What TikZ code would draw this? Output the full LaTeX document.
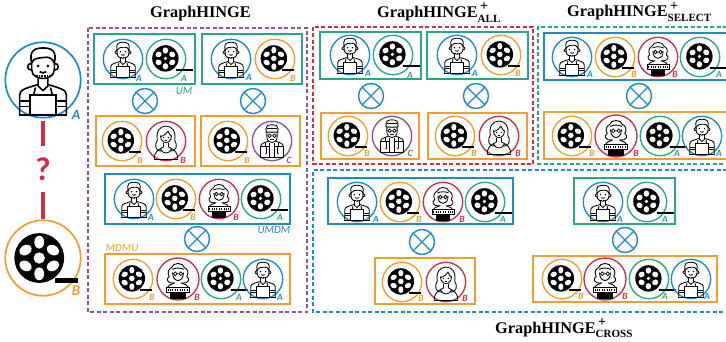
\documentclass[tikz,border=0pt]{standalone}
\usepackage{fontspec}
\setmainfont{Liberation Serif}
\setsansfont{Carlito}
\definecolor{cb}{HTML}{1F8AC6}
\definecolor{cg}{HTML}{2BA58A}
\definecolor{co}{HTML}{F39C2F}
\definecolor{cr}{HTML}{CE2F45}
\definecolor{cp}{HTML}{92519B}
\newcount\tkn
\newcommand{\ttlbase}{\fontsize{16.3}{16.3}\selectfont\bfseries GraphHINGE}
\newcommand{\ttl}[1]{\ttlbase\rlap{\raisebox{.42em}{\fontsize{14}{14}\selectfont\,+}}\raisebox{-.28em}{\fontsize{11}{11}\selectfont #1}}
\newcommand{\iconreel}{%
  \fill[black] (-.06,-.03) circle (.67);
  \fill[black] (.38,.49) rectangle (.97,.62);
  \begin{scope}[shift={(-.06,-.03)}]
  \fill[white] (0,0) circle (.14);
  \foreach \a in {30,90,...,330}{\fill[white,shift={(\a:.42)},rotate=\a] (0,0) ellipse (.17 and .13);}
  \end{scope}}
\newcommand{\iconreelA}{%
  \fill[black] (-.03,-.03) circle (.67);
  \fill[black] (.5,.49) rectangle (1.35,.62);
  \begin{scope}[shift={(-.03,-.03)}]
  \fill[white] (0,0) circle (.09);
  \foreach \a in {30,90,...,330}{\fill[white,shift={(\a:.4)},rotate=\a] (0,0) ellipse (.16 and .14);}
  \end{scope}}
\newcommand{\iconman}{%
  \draw (-.3,-.5) -- (-.3,-.28) .. controls (-.3,-.1) and (-.12,-.04) .. (0,-.04) .. controls (.12,-.04) and (.3,-.1) .. (.3,-.28) -- (.3,-.5);
  \draw (-.3,-.45) .. controls (-.38,-.78) and (-.22,-.85) .. (0,-.85) .. controls (.22,-.85) and (.38,-.78) .. (.3,-.45) .. controls (.25,-.58) and (.15,-.62) .. (.05,-.6) .. controls (-.1,-.58) and (-.25,-.6) .. (-.3,-.45);
  \draw (-.31,-.44) .. controls (-.44,-.44) and (-.44,-.26) .. (-.3,-.26);
  \draw (.31,-.44) .. controls (.44,-.44) and (.44,-.26) .. (.3,-.26);
  \fill (-.13,-.37) circle (.04) (.13,-.37) circle (.04);
  \draw (-.09,-.22) .. controls (-.04,-.18) and (.04,-.18) .. (.09,-.22);
  \draw[densely dotted] (-.18,-.1) -- (.18,-.1);
  \draw (-.13,-.04) -- (-.13,.16) -- (0,.28) -- (.13,.16) -- (.13,-.04);
  \draw (-.62,.92) -- (-.62,.4) .. controls (-.62,.25) and (-.45,.22) .. (-.13,.12);
  \draw (.62,.92) -- (.62,.4) .. controls (.62,.25) and (.45,.22) .. (.13,.12);
  \draw (-.34,.92) -- (-.34,.4) -- (.34,.4) -- (.34,.92);
  \draw (-.25,.4) -- (-.2,.2) (.25,.4) -- (.2,.2);
  \draw (-.62,.56) -- (-.34,.56) (-.62,.7) -- (-.34,.7) (.62,.56) -- (.34,.56) (.62,.7) -- (.34,.7);
  \fill (-.64,.89) rectangle (.64,.95);}
\newcommand{\iconwoman}{%
  \draw (-.2,.5) .. controls (-.55,.55) and (-.6,.2) .. (-.44,-.05) .. controls (-.52,-.5) and (-.3,-.76) .. (0,-.76) .. controls (.3,-.76) and (.52,-.5) .. (.44,-.05) .. controls (.6,.2) and (.55,.55) .. (.2,.5);
  \draw (-.28,-.22) .. controls (-.1,-.28) and (.05,-.38) .. (.1,-.5) .. controls (.15,-.38) and (.22,-.28) .. (.28,-.22);
  \draw (-.28,-.28) .. controls (-.28,-.02) and (-.12,.08) .. (0,.08) .. controls (.12,.08) and (.28,-.02) .. (.28,-.28);
  \fill (-.12,-.18) circle (.035) (.12,-.18) circle (.035);
  \draw (-.07,-.05) .. controls (-.03,-.01) and (.03,-.01) .. (.07,-.05);
  \draw (-.12,.08) -- (-.12,.3) (.12,.08) -- (.12,.3);
  \draw (-.6,.92) .. controls (-.6,.6) and (-.45,.45) .. (-.12,.3);
  \draw (.6,.92) .. controls (.6,.6) and (.45,.45) .. (.12,.3);
  \draw (-.28,.4) .. controls (-.18,.68) and (.18,.68) .. (.28,.4);
  \fill (-.62,.9) rectangle (.62,.96);}
\newcommand{\icondirector}{%
  \draw (-.2,.2) .. controls (-.5,.22) and (-.6,0) .. (-.42,-.12) .. controls (-.55,-.35) and (-.4,-.5) .. (-.3,-.55) .. controls (-.25,-.8) and (.25,-.8) .. (.3,-.55) .. controls (.42,-.5) and (.55,-.35) .. (.42,-.12) .. controls (.6,0) and (.5,.22) .. (.2,.2);
  \draw (-.26,-.3) .. controls (-.26,-.03) and (-.12,.07) .. (0,.07) .. controls (.12,.07) and (.26,-.03) .. (.26,-.3);
  \draw (-.28,-.46) .. controls (-.1,-.54) and (.1,-.54) .. (.28,-.46);
  \draw[line width=.8pt] (-.13,-.25) circle (.09) (.13,-.25) circle (.09) (-.04,-.25) -- (.04,-.25);
  \draw (-.5,.4) .. controls (-.5,.32) and (-.38,.28) .. (-.14,.18);
  \draw (.5,.4) .. controls (.5,.32) and (.38,.28) .. (.14,.18);
  \draw (-.56,.4) rectangle (.56,.63);
  \draw[line width=1.8pt,dash pattern=on 1.1pt off 1.3pt] (-.5,.515) -- (.5,.515);
  \fill (-.36,.63) rectangle (.36,.97);}
\newcommand{\iconold}{%
  \draw (-.26,-.42) -- (-.26,-.2) .. controls (-.26,.0) and (-.1,.08) .. (0,.08) .. controls (.1,.08) and (.26,.0) .. (.26,-.2) -- (.26,-.42);
  \draw (-.3,-.45) .. controls (-.34,-.78) and (-.2,-.82) .. (0,-.82) .. controls (.2,-.82) and (.34,-.78) .. (.3,-.45) -- cycle;
  \draw (-.26,-.65) -- (.26,-.65);
  \draw[line width=.7pt] (-.12,-.27) circle (.09) (.12,-.27) circle (.09);
  \draw (-.1,-.07) -- (.1,-.07);
  \draw (-.58,.84) -- (-.58,.28) .. controls (-.58,.14) and (-.4,.08) .. (-.2,.02);
  \draw (.58,.84) -- (.58,.28) .. controls (.58,.14) and (.4,.08) .. (.2,.02);
  \draw (-.58,.28) -- (-.14,.28) (.58,.28) -- (.14,.28);
  \draw (-.32,.06) -- (-.32,.28) (.32,.06) -- (.32,.28) (-.14,.08) -- (-.14,.84) (.14,.08) -- (.14,.84);
  \draw (-.3,.28) -- (-.3,.62) (.3,.28) -- (.3,.62);
  \fill (-.3,.64) circle (.04) (.3,.64) circle (.04);
  \fill (-.6,.82) rectangle (.6,.88);}
% token: x y r colour icon labelx labely label
\newcommand{\tk}[8]{%
  \global\advance\tkn by 1
  \node[tokc,draw=#4,minimum size=#3*2pt] (t\the\tkn) at (#1,#2) {};
  \begin{scope}[shift={(#1,#2)},x=#3pt,y=-#3pt,line width={#3*0.042pt}]
    \csname icon#5\endcsname
  \end{scope}
  \node[toklab,text=#4] (l\the\tkn) at (#6,#7) {#8};}
\newcommand{\ot}[2]{%
  \global\advance\tkn by 1
  \node[otc] (o\the\tkn) at (#1,#2) {};
  \draw[cb,line width=1.4pt] (o\the\tkn.45) -- (o\the\tkn.225) (o\the\tkn.135) -- (o\the\tkn.315);}
\newcommand{\bx}[5]{\draw[#1] (#2,#3) rectangle (#4,#5);}
\tikzset{
  tokc/.style={circle,inner sep=0pt,line width=1.35pt},
  toklab/.style={font=\sffamily\itshape\bfseries\fontsize{9.5}{9.5}\selectfont,inner sep=0pt},
  otc/.style={circle,draw=cb,line width=1.4pt,minimum size=25pt,inner sep=0pt},
  tag/.style={font=\sffamily\itshape\fontsize{11}{11}\selectfont,inner sep=0pt},
  gb/.style={draw=cg,line width=1.5pt},
  ob/.style={draw=co,line width=1.5pt},
  bb/.style={draw=cb,line width=1.5pt},
  dashp/.style={draw=#1,line width=1.4pt,dash pattern=on 4pt off 2.5pt},
  ttlnode/.style={anchor=base west,inner sep=0pt},
  qline/.style={cr,line width=3.2pt},
}
\begin{document}
\begin{tikzpicture}[x=1pt,y=-1pt]
\useasboundingbox (0,0) rectangle (726,342);
\clip (0,0) rectangle (726,342);
% titles
\node[ttlnode] (t1) at (150,18) {\ttlbase};
\node[ttlnode] (t2) at (377,17.7) {\ttl{ALL}};
\node[ttlnode] (t3) at (567,17) {\ttl{SELECT}};
\node[ttlnode] (t4) at (495,333) {\ttl{CROSS}};
% dashed groups
\draw[dashp=cp] (88,28) rectangle (307,312);
\draw[dashp=cr] (313,27) rectangle (533,164);
\draw[dashp=cg] (740,27) -- (538,27) -- (538,164) -- (740,164);
\draw[dashp=cb] (740,170) -- (313,170) -- (313,312) -- (740,312);
% query
\node[tokc,draw=cb,line width=1.7pt,minimum size=75.4pt] (userA) at (43,80) {};
\begin{scope}[shift={(43,80)},x=37.7pt,y=-37.7pt,line width=1.6pt]\iconman\end{scope}
\node[toklab,text=cb,font=\sffamily\itshape\bfseries\fontsize{14}{14}\selectfont] (labA) at (76,115) {A};
\node[tokc,draw=co,line width=1.7pt,minimum size=75.4pt] (itemB) at (43,258) {};
\begin{scope}[shift={(43,258)},x=37.7pt,y=-37.7pt]
  \fill[black] (-.1,0) circle (.66);
  \fill[black] (.32,.54) rectangle (.93,.66);
  \begin{scope}[shift={(-.1,0)}]
  \fill[white] (0,0) circle (.15);
  \foreach \a in {30,90,...,330}{\fill[white,shift={(\a:.42)},rotate=\a] (0,0) ellipse (.17 and .13);}
  \end{scope}
\end{scope}
\node[toklab,text=co,font=\sffamily\itshape\bfseries\fontsize{15}{15}\selectfont] (labB) at (76,291) {B};
\node[inner sep=0pt,minimum height=46pt,minimum width=12pt,text=cr,font=\fontsize{33}{33}\selectfont\sffamily\bfseries] (q) at (43,169) {?};
\draw[qline,shorten <=2pt] (userA) -- (q);
\draw[qline] (q) -- (itemB);
% GraphHINGE
\bx{gb}{94}{34}{195}{84}
\tk{123}{59}{19.7}{cb}{man}{139}{78}{A}
\tk{166}{59}{19.7}{cg}{reelA}{184}{78}{A}
\bx{gb}{202}{34}{302}{84}
\tk{231}{59}{19.7}{cb}{man}{249}{77}{A}
\tk{275}{59}{19.7}{co}{reel}{293}{78}{B}
\node[tag,text=cg] (um) at (184,91) {UM};
\ot{145}{101}\ot{253}{101}
\bx{ob}{96}{116}{195}{166}
\tk{122}{141}{19.7}{co}{reel}{140}{160}{B}
\tk{166}{141}{19.7}{cr}{woman}{183}{160}{B}
\bx{ob}{201}{116}{300}{166}
\tk{228}{141}{19.7}{co}{reel}{247}{160}{B}
\tk{272}{141}{19.7}{cp}{old}{289}{160}{C}
\bx{bb}{105}{174}{290}{224}
\tk{134}{199}{19.7}{cb}{man}{151}{217}{A}
\tk{176}{199}{19.7}{co}{reel}{193}{217}{B}
\tk{219}{199}{19.7}{cr}{director}{236}{217}{B}
\tk{261}{199}{19.7}{cg}{reelA}{280}{217}{A}
\node[tag,text=cb] (umdm) at (274,230) {UMDM};
\ot{197}{239}
\node[tag,text=co] (mdmu) at (122,248) {MDMU};
\bx{ob}{105}{254}{290}{304}
\tk{133}{279}{19.7}{co}{reel}{152}{297}{B}
\tk{178}{279}{21}{cr}{director}{197}{297}{B}
\tk{221}{279}{19.7}{cg}{reelA}{239}{297}{A}
\tk{263}{279}{19.7}{cb}{man}{280}{297}{A}
% ALL
\bx{gb}{320}{32}{421}{79}
\tk{350}{55}{19.7}{cb}{man}{368}{73}{A}
\tk{393}{55}{19.7}{cg}{reelA}{410}{75}{A}
\bx{gb}{427}{32}{528}{79}
\tk{457}{55}{19.7}{cb}{man}{475}{73}{A}
\tk{501}{55}{19.7}{co}{reel}{518}{73}{B}
\ot{371}{96}\ot{476}{96}
\bx{ob}{321}{113}{419}{159}
\tk{348}{136}{19.7}{co}{reel}{367}{153}{B}
\tk{392}{136}{19.7}{cp}{old}{410}{153}{C}
\bx{ob}{428}{113}{527}{159}
\tk{455}{136}{19.7}{co}{reel}{474}{153}{B}
\tk{499}{136}{19.7}{cr}{woman}{518}{153}{B}
% SELECT
\bx{bb}{544}{33}{740}{80}
\tk{572}{57}{19.7}{cb}{man}{590}{74}{A}
\tk{615}{57}{19.7}{co}{reel}{634}{74}{B}
\tk{658}{57}{19.7}{cr}{director}{675}{74}{B}
\tk{700}{57}{19.7}{cg}{reelA}{719}{74}{A}
\ot{639}{96}
\bx{ob}{544}{112}{740}{159}
\tk{572}{136}{19.7}{co}{reel}{592}{153}{B}
\tk{616}{136}{21}{cr}{director}{636}{153}{B}
\tk{660}{136}{19.7}{cg}{reelA}{677}{153}{A}
\tk{702}{136}{19.7}{cb}{man}{719}{153}{A}
% CROSS
\bx{bb}{328}{178}{513}{224}
\tk{357}{202}{19.7}{cb}{man}{376}{219}{A}
\tk{400}{202}{19.7}{co}{reel}{419}{219}{B}
\tk{443}{202}{19.7}{cr}{director}{462}{219}{B}
\tk{485}{202}{19.7}{cg}{reelA}{503}{219}{A}
\ot{422}{242}
\bx{ob}{375}{258}{475}{304}
\tk{402}{282}{19.7}{co}{reel}{421}{298}{B}
\tk{446}{282}{19.7}{cr}{woman}{465}{298}{B}
\bx{gb}{574}{178}{675}{224}
\tk{603}{202}{19.7}{cb}{man}{620}{219}{A}
\tk{647}{202}{19.7}{cg}{reelA}{665}{219}{A}
\ot{625}{240}
\bx{ob}{533}{256}{717}{302}
\tk{562}{279}{19.7}{co}{reel}{581}{296}{B}
\tk{605}{279}{21}{cr}{director}{625}{296}{B}
\tk{649}{279}{19.7}{cg}{reelA}{665}{296}{A}
\tk{691}{279}{19.7}{cb}{man}{707}{296}{A}
\end{tikzpicture}
\end{document}
